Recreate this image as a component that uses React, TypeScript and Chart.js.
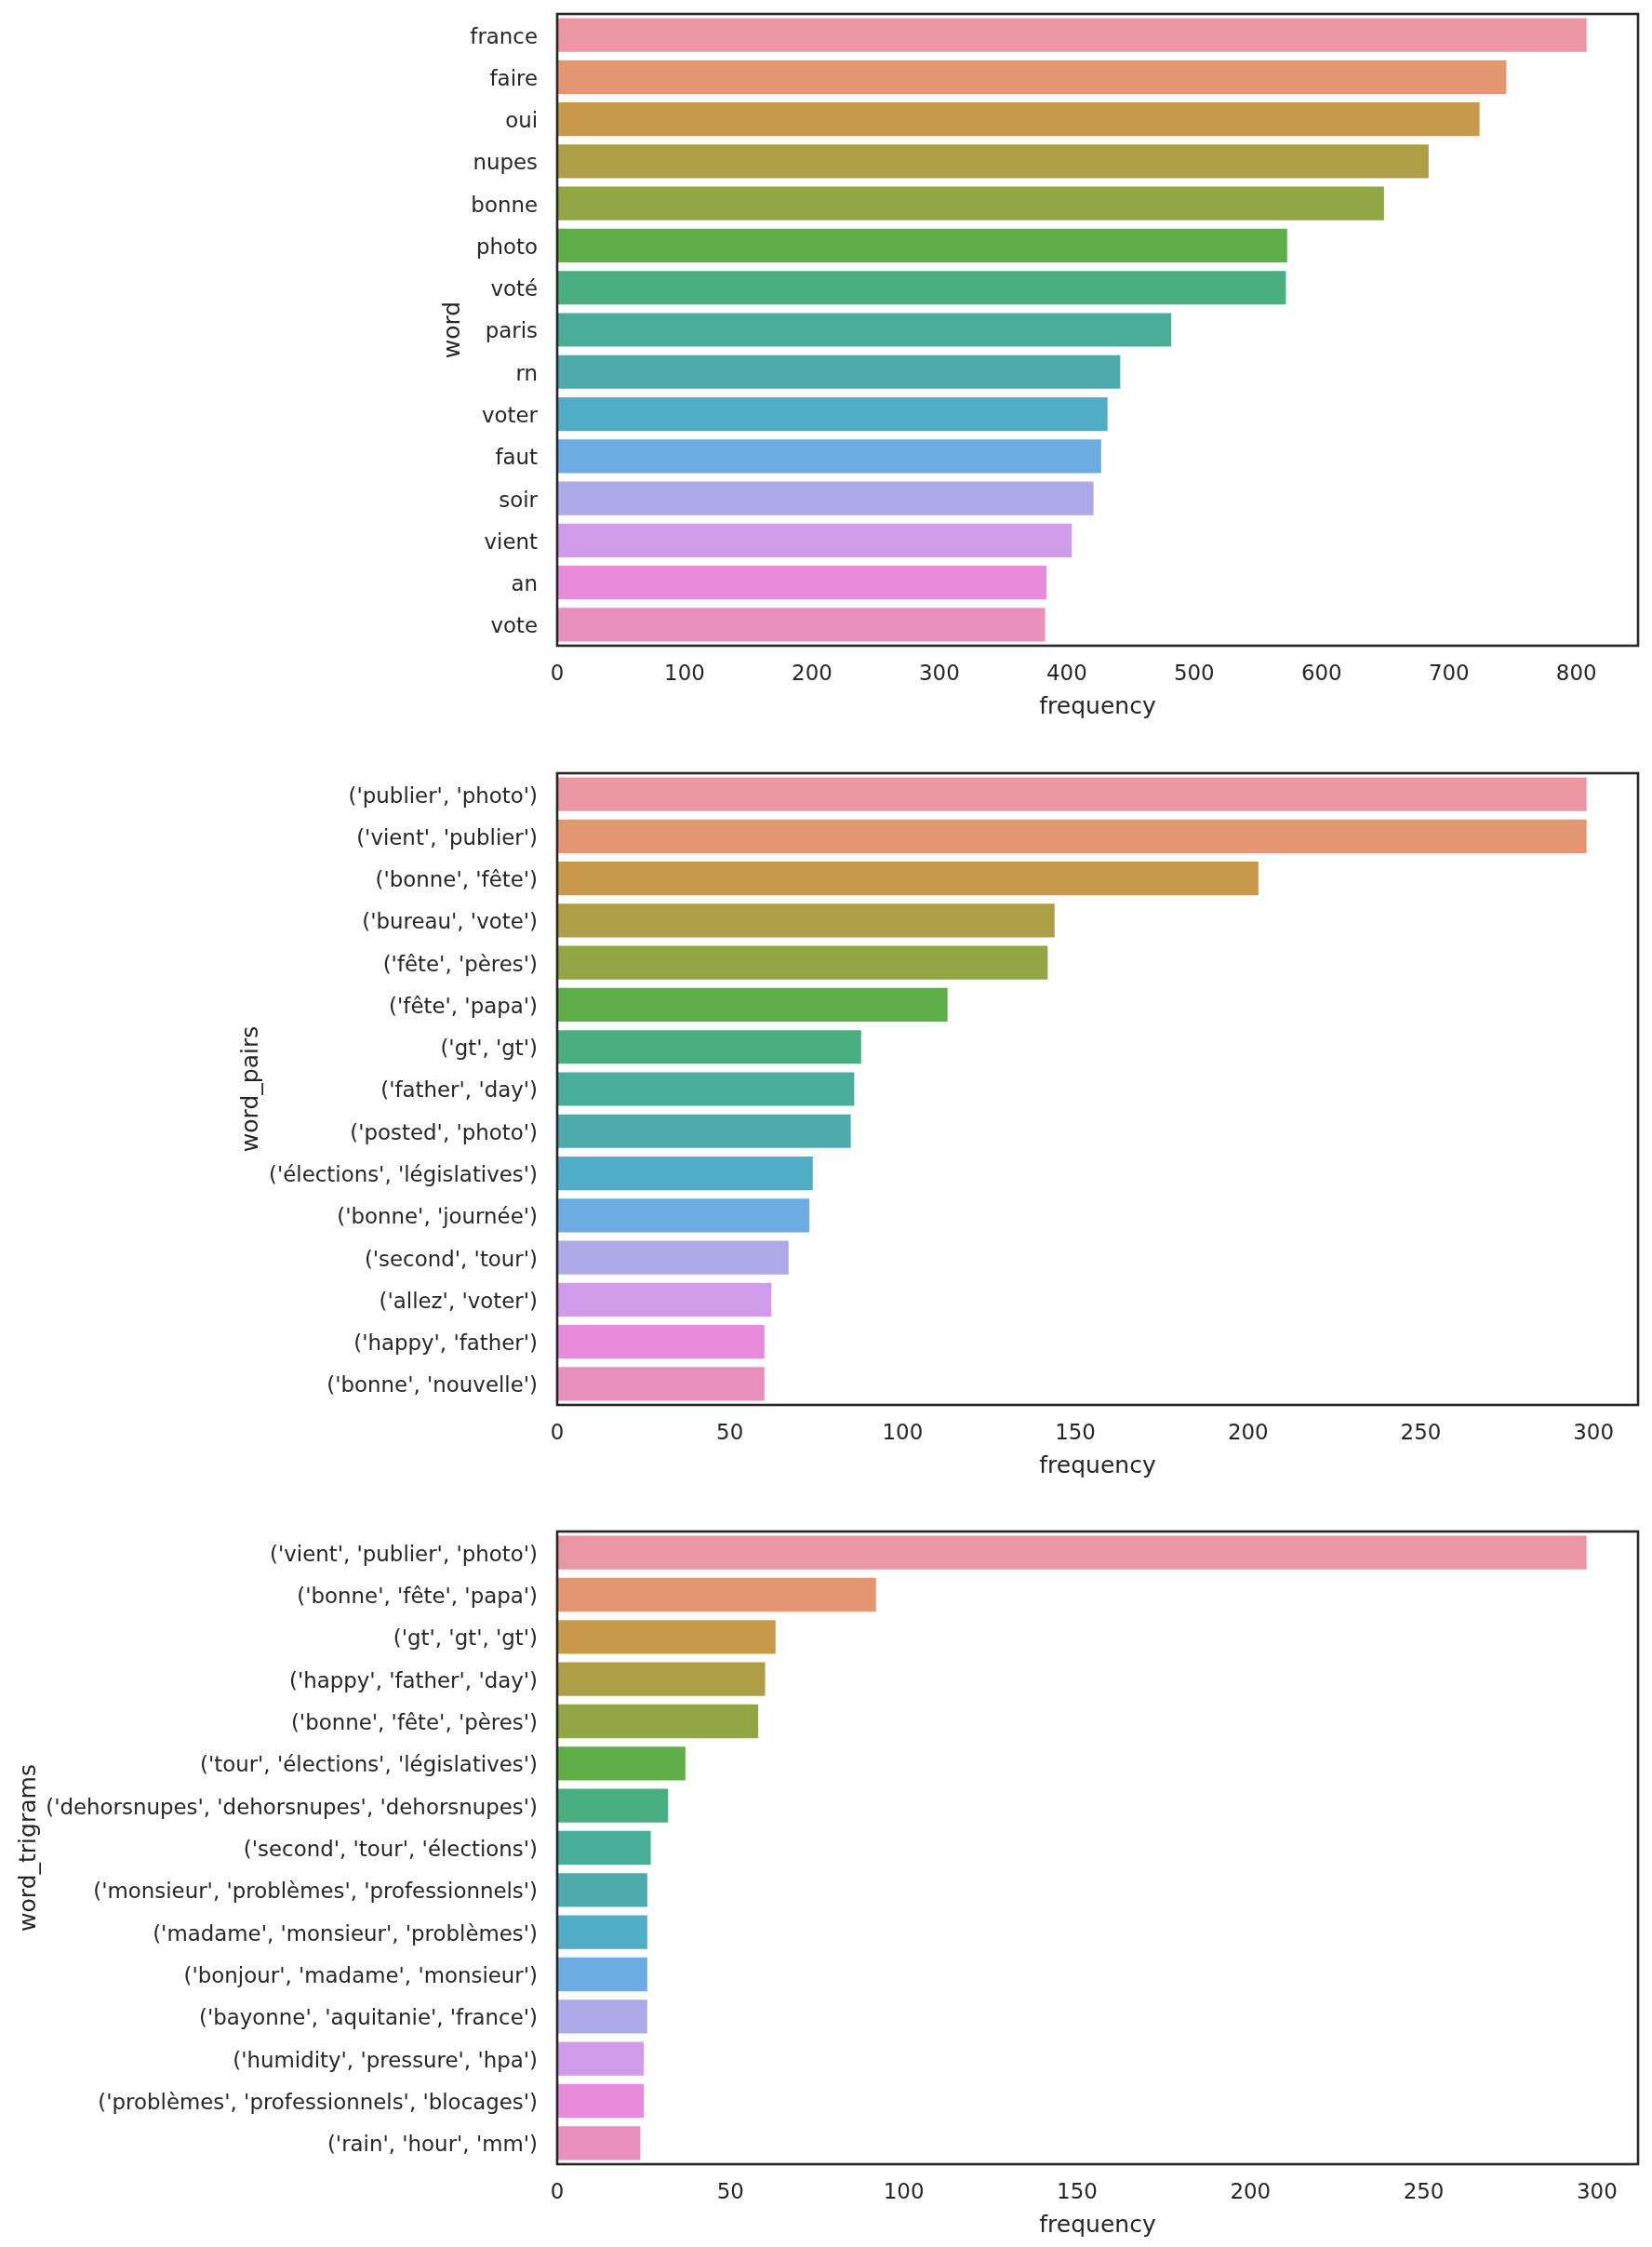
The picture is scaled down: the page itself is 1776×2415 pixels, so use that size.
import React, { useEffect, useRef } from "react";
import { Chart, registerables } from "chart.js";

Chart.register(...registerables);

// ---------- data ----------
const wordLabels = ["france", "faire", "oui", "nupes", "bonne", "photo", "voté", "paris", "rn", "voter", "faut", "soir", "vient", "an", "vote"];
const wordCounts = [808, 745, 724, 684, 649, 573, 572, 482, 442, 432, 427, 421, 404, 384, 383];

const pairLabels = [
  "('publier', 'photo')",
  "('vient', 'publier')",
  "('bonne', 'fête')",
  "('bureau', 'vote')",
  "('fête', 'pères')",
  "('fête', 'papa')",
  "('gt', 'gt')",
  "('father', 'day')",
  "('posted', 'photo')",
  "('élections', 'législatives')",
  "('bonne', 'journée')",
  "('second', 'tour')",
  "('allez', 'voter')",
  "('happy', 'father')",
  "('bonne', 'nouvelle')",
];
const pairCounts = [298, 298, 203, 144, 142, 113, 88, 86, 85, 74, 73, 67, 62, 60, 60];

const trigramLabels = [
  "('vient', 'publier', 'photo')",
  "('bonne', 'fête', 'papa')",
  "('gt', 'gt', 'gt')",
  "('happy', 'father', 'day')",
  "('bonne', 'fête', 'pères')",
  "('tour', 'élections', 'législatives')",
  "('dehorsnupes', 'dehorsnupes', 'dehorsnupes')",
  "('second', 'tour', 'élections')",
  "('monsieur', 'problèmes', 'professionnels')",
  "('madame', 'monsieur', 'problèmes')",
  "('bonjour', 'madame', 'monsieur')",
  "('bayonne', 'aquitanie', 'france')",
  "('humidity', 'pressure', 'hpa')",
  "('problèmes', 'professionnels', 'blocages')",
  "('rain', 'hour', 'mm')",
];
const trigramCounts = [297, 92, 63, 60, 58, 37, 32, 27, 26, 26, 26, 26, 25, 25, 24];

const wordTicks = [0, 100, 200, 300, 400, 500, 600, 700, 800];
const pairTicks = [0, 50, 100, 150, 200, 250, 300];
const trigramTicks = [0, 50, 100, 150, 200, 250, 300];

const wordMax = 848.4;
const pairMax = 312.9;
const trigramMax = 311.85;

const barColors = [
  "#EA96A3", "#E49672", "#C8994A", "#AC9F45", "#93A646",
  "#60AE47", "#4AAF80", "#4AAD99", "#4DABAD", "#51ACC5",
  "#6DACE3", "#ADAAEA", "#D09BE8", "#E78BDA", "#E891BC",
];

const TEXT = "#262626";
const FONT = "DejaVu Sans";

const framePlugin = {
  id: "frame",
  afterDatasetsDraw(chart: any) {
    const { ctx, chartArea: a } = chart;
    ctx.save();
    ctx.strokeStyle = TEXT;
    ctx.lineWidth = 2.6;
    ctx.strokeRect(a.left, a.top, a.right - a.left, a.bottom - a.top);
    ctx.restore();
  },
};

type Target = { left: number; right: number; top: number; bottom: number };

function BarPanel(props: {
  labels: string[];
  values: number[];
  ticks: number[];
  max: number;
  yTitle: string;
  top: number;
  height: number;
  target: Target;
}) {
  const ref = useRef<HTMLCanvasElement | null>(null);
  useEffect(() => {
    const canvas = ref.current!;
    const chart = new Chart(canvas, {
      type: "bar",
      data: {
        labels: props.labels,
        datasets: [
          {
            data: props.values,
            backgroundColor: barColors,
            borderWidth: 0,
            barPercentage: 0.8,
            categoryPercentage: 1.0,
          },
        ],
      },
      options: {
        indexAxis: "y",
        responsive: false,
        animation: false,
        devicePixelRatio: 1,
        layout: { padding: { left: 0, right: 15, top: props.target.top, bottom: 0 } },
        plugins: { legend: { display: false }, tooltip: { enabled: false } },
        scales: {
          x: {
            type: "linear",
            min: 0,
            max: props.max,
            grid: { display: false, drawTicks: false },
            border: { display: false },
            afterBuildTicks: (scale: any) => {
              scale.ticks = props.ticks.map((v) => ({ value: v }));
            },
            ticks: {
              color: TEXT,
              font: { family: FONT, size: 22.9 },
              padding: 17,
              maxRotation: 0,
              autoSkip: false,
            },
            title: {
              display: true,
              text: "frequency",
              color: TEXT,
              font: { family: FONT, size: 25 },
              padding: { top: -10, bottom: 4 },
            },
          },
          y: {
            type: "category",
            grid: { display: false, drawTicks: false },
            border: { display: false },
            ticks: {
              color: TEXT,
              font: { family: FONT, size: 22.9 },
              padding: 21,
              labelOffset: 3,
              autoSkip: false,
            },
            title: {
              display: true,
              text: props.yTitle,
              color: TEXT,
              font: { family: FONT, size: 25 },
              padding: { top: 4, bottom: -18 },
            },
          },
        },
      },
      plugins: [framePlugin],
    } as any);

    const t = props.target;
    for (let i = 0; i < 4; i++) {
      const a = chart.chartArea;
      const p: any = (chart.options as any).layout.padding;
      const np = {
        left: p.left + (t.left - a.left),
        right: p.right + (a.right - t.right),
        top: p.top + (t.top - a.top),
        bottom: p.bottom + (a.bottom - t.bottom),
      };
      (chart.options as any).layout.padding = np;
      chart.update();
    }
    return () => chart.destroy();
  }, []);
  return (
    <canvas
      ref={ref}
      width={1776}
      height={props.height}
      style={{ position: "absolute", left: 0, top: props.top, width: 1776, height: props.height, display: "block" }}
    />
  );
}

export default function App() {
  return (
    <div style={{ position: "absolute", left: 0, top: 0, width: 1776, height: 2415, background: "#ffffff", overflow: "hidden" }}>
      <BarPanel
        labels={wordLabels}
        values={wordCounts}
        ticks={wordTicks}
        max={wordMax}
        yTitle="word"
        top={-45}
        height={840}
        target={{ left: 599, right: 1761, top: 60, bottom: 739 }}
      />
      <BarPanel
        labels={pairLabels}
        values={pairCounts}
        ticks={pairTicks}
        max={pairMax}
        yTitle="word_pairs"
        top={775}
        height={820}
        target={{ left: 599, right: 1761, top: 56, bottom: 735 }}
      />
      <BarPanel
        labels={trigramLabels}
        values={trigramCounts}
        ticks={trigramTicks}
        max={trigramMax}
        yTitle="word_trigrams"
        top={1595}
        height={820}
        target={{ left: 599, right: 1761, top: 51, bottom: 731 }}
      />
    </div>
  );
}
